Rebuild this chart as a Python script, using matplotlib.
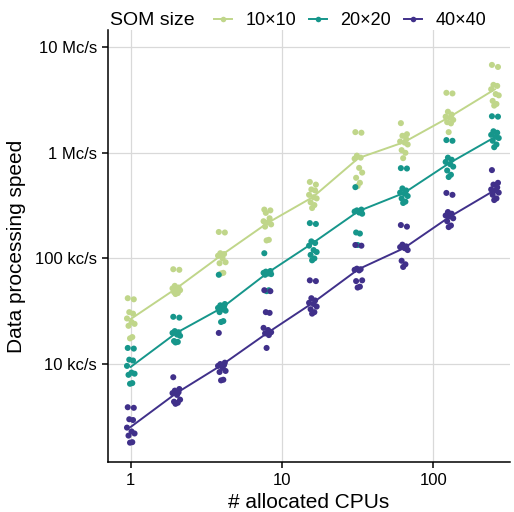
import numpy as np
import matplotlib
matplotlib.use("Agg")
import matplotlib.pyplot as plt
from matplotlib.lines import Line2D
from matplotlib.offsetbox import HPacker

plt.rcParams['font.family'] = ['Liberation Sans', 'DejaVu Sans']

cpus = [1, 2, 4, 8, 16, 32, 64, 128, 256]
som_sizes = ["10\u00d710", "20\u00d720", "40\u00d740"]
colors = ["#c0d68a", "#16968b", "#40308a"]

# median speed (c/s) per CPU count, the line
median_10 = [26.7e3, 52e3, 108e3, 216e3, 381e3, 891e3, 1.26e6, 2.18e6, 4.0e6]
median_20 = [9.4e3, 19.7e3, 34e3, 72.8e3, 140e3, 280e3, 416e3, 800e3, 1.41e6]
median_40 = [2.54e3, 5.3e3, 9.8e3, 19.7e3, 38e3, 79e3, 125e3, 247e3, 444e3]

# individual runs (c/s), one list per CPU count
runs_10 = [
    [42e3, 41e3, 31e3, 30e3, 27e3, 25e3, 24e3, 23e3, 18e3, 17.5e3],
    [79e3, 78e3, 55e3, 53e3, 52e3, 51e3, 50e3, 48e3, 47e3, 46e3],
    [178e3, 176e3, 112e3, 110e3, 106e3, 100e3, 92e3, 90e3, 73e3, 72e3],
    [290e3, 285e3, 270e3, 240e3, 225e3, 220e3, 210e3, 200e3, 150e3, 148e3],
    [530e3, 500e3, 450e3, 440e3, 400e3, 380e3, 370e3, 340e3, 320e3, 300e3],
    [1.57e6, 1.55e6, 940e3, 900e3, 880e3, 720e3, 650e3, 580e3, 520e3, 484e3],
    [1.91e6, 1.5e6, 1.45e6, 1.35e6, 1.28e6, 1.25e6, 1.2e6, 1.06e6, 1.0e6, 890e3],
    [3.7e6, 3.65e6, 2.45e6, 2.3e6, 2.2e6, 2.15e6, 2.05e6, 1.95e6, 1.9e6, 1.57e6],
    [6.8e6, 6.5e6, 4.4e6, 4.3e6, 4.0e6, 3.6e6, 3.5e6, 3.1e6, 2.9e6, 2.8e6],
]
runs_20 = [
    [14.2e3, 14e3, 11e3, 10.8e3, 9.6e3, 8.3e3, 8.1e3, 7.9e3, 6.6e3, 6.5e3],
    [28e3, 27.5e3, 20.5e3, 20e3, 19.7e3, 19e3, 18.5e3, 16.5e3, 16.2e3, 16e3],
    [70e3, 37e3, 36e3, 35e3, 34e3, 33e3, 32e3, 31e3, 25.5e3, 25e3],
    [112e3, 76e3, 75e3, 74e3, 73e3, 72e3, 71e3, 70e3, 50e3, 49e3],
    [216e3, 212e3, 145e3, 140e3, 132e3, 120e3, 115e3, 108e3, 100e3, 96e3],
    [473e3, 290e3, 285e3, 280e3, 278e3, 272e3, 265e3, 176e3, 172e3, 134e3],
    [716e3, 710e3, 460e3, 440e3, 420e3, 410e3, 390e3, 370e3, 345e3, 335e3],
    [1.32e6, 1.3e6, 900e3, 860e3, 820e3, 780e3, 740e3, 680e3, 620e3, 590e3],
    [2.22e6, 2.2e6, 1.6e6, 1.55e6, 1.48e6, 1.42e6, 1.38e6, 1.3e6, 1.2e6, 1.13e6],
]
runs_40 = [
    [3.9e3, 3.85e3, 3.0e3, 2.95e3, 2.5e3, 2.3e3, 2.2e3, 2.1e3, 1.82e3, 1.8e3],
    [7.5e3, 5.8e3, 5.6e3, 5.4e3, 5.3e3, 5.1e3, 4.6e3, 4.4e3, 4.3e3, 4.2e3],
    [19.7e3, 10.3e3, 10e3, 9.8e3, 9.6e3, 9.2e3, 8.6e3, 8.4e3, 7.1e3, 7.0e3],
    [50e3, 49e3, 31e3, 30.5e3, 22e3, 21e3, 20e3, 19.5e3, 18.8e3, 14.2e3],
    [62e3, 61e3, 42e3, 40e3, 38e3, 37e3, 35e3, 33e3, 31e3, 30e3],
    [134e3, 132e3, 80e3, 79e3, 78e3, 77e3, 62e3, 61e3, 54e3, 53e3],
    [207e3, 200e3, 135e3, 130e3, 128e3, 125e3, 120e3, 95e3, 88e3, 83e3],
    [417e3, 400e3, 275e3, 265e3, 255e3, 250e3, 240e3, 225e3, 205e3, 198e3],
    [686e3, 520e3, 500e3, 470e3, 450e3, 440e3, 420e3, 400e3, 370e3, 357e3],
]

y_ticks = [1e4, 1e5, 1e6, 1e7]
y_labels = ["10 kc/s", "100 kc/s", "1 Mc/s", "10 Mc/s"]
x_ticks = [1, 10, 100]
x_labels = ["1", "10", "100"]

# fixed horizontal jitter (in log10 units) so the dots spread a bit
jitter = np.array([-0.02, 0.02, -0.01, 0.015, -0.025, 0.005, 0.025, -0.015, 0.01, -0.005])

fig = plt.figure(figsize=(5.14, 5.12), dpi=100)
ax = fig.add_axes([0.21, 0.098, 0.782, 0.843])

series = [(runs_10, median_10), (runs_20, median_20), (runs_40, median_40)]
for (runs, med), col, lab in zip(series, colors, som_sizes):
    for c, vals in zip(cpus, runs):
        xs = c * 10 ** jitter[:len(vals)]
        ax.scatter(xs, vals, s=19, color=col, edgecolors="none", zorder=3)
    ax.plot(cpus, med, color=col, lw=1.4, zorder=2)

ax.set_xscale("log")
ax.set_yscale("log")
ax.set_xlim(10 ** -0.151, 10 ** 2.507)
ax.set_ylim(10 ** 3.074, 10 ** 7.161)
ax.set_xticks(x_ticks)
ax.set_xticklabels(x_labels)
ax.set_yticks(y_ticks)
ax.set_yticklabels(y_labels)
ax.minorticks_off()
ax.grid(True, color="#d9d9d9", lw=0.9, zorder=0)
ax.set_axisbelow(True)
for s in ["top", "right"]:
    ax.spines[s].set_visible(False)
for s in ["left", "bottom"]:
    ax.spines[s].set_linewidth(1.1)
ax.tick_params(axis="both", labelsize=12, length=4, width=1.1, colors="black", pad=4)
ax.set_xlabel("# allocated CPUs", fontsize=15, labelpad=4)
ax.set_ylabel("Data processing speed", fontsize=15, labelpad=6)

handles = [Line2D([0], [0], color=c, lw=1.4, marker="o", markersize=4, markeredgewidth=0)
           for c in colors]
leg = fig.legend(handles, som_sizes, title="SOM size", loc="upper center",
                 bbox_to_anchor=(0.58, 1.008), ncol=3, frameon=False, fontsize=13,
                 title_fontsize=14, handlelength=1.0, columnspacing=0.7, handletextpad=0.75)
# put the title on the same row as the keys
leg._legend_box.__class__ = HPacker
leg._legend_box.sep = 14
leg._legend_box.align = "center"

fig.savefig("out.png", dpi=100)
